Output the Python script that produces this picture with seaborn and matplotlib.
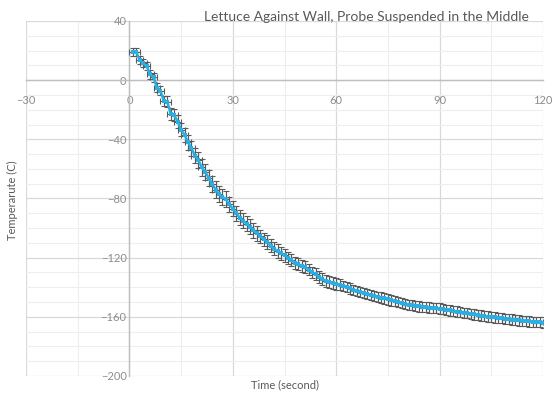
import numpy as np
import pandas as pd
import matplotlib
matplotlib.use('Agg')
import matplotlib.pyplot as plt
from matplotlib.ticker import MultipleLocator
import seaborn as sns

TITLE = 'Lettuce Against Wall, Probe Suspended in the Middle'
X_LABEL = 'Time (second)'
Y_LABEL = 'Temperarute (C)'

time_s = [
    1, 2, 3, 4, 5, 6, 7, 8, 9, 10, 11, 12, 13, 14, 15, 16, 17, 18, 19, 20,
    21, 22, 23, 24, 25, 26, 27, 28, 29, 30, 31, 32, 33, 34, 35, 36, 37, 38, 39, 40,
    41, 42, 43, 44, 45, 46, 47, 48, 49, 50, 51, 52, 53, 54, 55, 56, 57, 58, 59, 60,
    61, 62, 63, 64, 65, 66, 67, 68, 69, 70, 71, 72, 73, 74, 75, 76, 77, 78, 79, 80,
    81, 82, 83, 84, 85, 86, 87, 88, 89, 90, 91, 92, 93, 94, 95, 96, 97, 98, 99, 100,
    101, 102, 103, 104, 105, 106, 107, 108, 109, 110, 111, 112, 113, 114, 115, 116, 117, 118, 119, 120,
]
temp_c = [
    19, 19, 13.5, 11.5, 9.5, 4, 2, -5, -7, -14,
    -14.5, -23, -23.5, -28, -33.5, -37, -42, -46, -51, -54,
    -59, -62, -66, -70, -74, -77, -79, -80.5, -84, -87,
    -90, -93, -95, -97, -99, -101.5, -103.5, -105.5, -107.5, -109.5,
    -112, -114, -115.5, -117, -118.5, -120, -121.5, -123.5, -124.5, -125.5,
    -126.5, -128, -130, -131, -133, -134.5, -135.5, -136.3, -137, -137.6,
    -138.2, -139, -139.8, -140.8, -141.8, -142.6, -143.3, -144, -144.6, -145.2,
    -145.8, -146.4, -147, -147.6, -148.2, -148.9, -149.5, -150.1, -150.8, -151.4,
    -151.8, -152.2, -152.6, -152.9, -153.2, -153.5, -153.8, -154, -154.2, -154.4,
    -154.9, -155.3, -155.7, -156.1, -156.5, -156.9, -157.3, -157.6, -158, -158.4,
    -158.7, -159.1, -159.4, -159.8, -160.1, -160.4, -160.7, -161, -161.3, -161.6,
    -161.9, -162.1, -162.4, -162.6, -162.9, -163.1, -163.3, -163.5, -163.7, -163.9,
]
temp_err = [
    2.5, 2.5, 2.5, 2.5, 2.5, 3, 3, 3, 3, 3.5,
    3.5, 4, 4, 4.5, 4.5, 4.5, 5, 5, 5, 5.5,
    5.5, 5.5, 5.5, 5.5, 5.5, 5.5, 5.5, 5.5, 5, 5,
    5, 5, 5, 5, 5, 5, 5, 4.5, 4.5, 4.5,
    4.5, 4.5, 4.5, 4.5, 4.5, 4, 4, 4, 4, 4,
    4, 4, 4, 4, 4, 4, 4, 4, 4, 4,
    3.5, 3.5, 3.5, 3.5, 3.5, 3.5, 3.5, 3.5, 3.5, 3.5,
    3.5, 3.5, 3.5, 3.5, 3.5, 3.5, 3.5, 3.5, 3.5, 3.5,
    3.5, 3.5, 3.5, 3.5, 3.5, 3.5, 3.5, 3.5, 3.5, 3.5,
    3.5, 3.5, 3.5, 3.5, 3.5, 3.5, 3.5, 3.5, 3.5, 3.5,
    3.5, 3.5, 3.5, 3.5, 3.5, 3.5, 3.5, 3.5, 3.5, 3.5,
    3.5, 3.5, 3.5, 3.5, 3.5, 3.5, 3.5, 3.5, 3.5, 3.5,
]
time_err = 1.0

df = pd.DataFrame({'Time': time_s, 'Temp': temp_c, 'Err': temp_err})

sns.set_theme(style='white')
plt.rcParams['font.family'] = ['Lato', 'DejaVu Sans']

fig = plt.figure(figsize=(5.53, 3.97), dpi=100)
ax = fig.add_axes([26/553, 1-376/397, (543-26)/553, (376-21)/397])

ax.set_xlim(-30, 120)
ax.set_ylim(-200, 40)
ax.xaxis.set_major_locator(MultipleLocator(30))
ax.xaxis.set_minor_locator(MultipleLocator(15))
ax.yaxis.set_major_locator(MultipleLocator(40))
ax.yaxis.set_minor_locator(MultipleLocator(10))
ax.grid(which='major', color='#D9D9D9', linewidth=0.9)
ax.grid(which='minor', color='#EEEEEE', linewidth=0.8)
ax.set_axisbelow(True)

# axes cross at zero like the spreadsheet chart
for s in ['top', 'right']:
    ax.spines[s].set_visible(False)
ax.spines['left'].set_position(('data', 0))
ax.spines['bottom'].set_position(('data', 0))
ax.spines['left'].set_color('#BFBFBF')
ax.spines['bottom'].set_color('#BFBFBF')
ax.spines['left'].set_linewidth(1.0)
ax.spines['bottom'].set_linewidth(1.0)
ax.tick_params(which='both', length=0, labelsize=8, labelcolor='#8C8C8C')
ax.tick_params(axis='x', pad=11)
ax.tick_params(axis='y', pad=2)

ax.errorbar(df['Time'], df['Temp'], yerr=df['Err'], xerr=time_err, fmt='none',
            ecolor='#5A5A5A', elinewidth=0.8, capsize=2, capthick=0.8, zorder=3)
sns.lineplot(ax=ax, data=df, x='Time', y='Temp', color='#2AAEE3', linewidth=1.8,
             marker='s', markersize=3, markeredgewidth=0, zorder=4)

ax.set_xlabel('')
ax.set_ylabel('')
fig.text(285/553, 1-385/397, X_LABEL, ha='center', va='center', fontsize=8, color='#595959')
fig.text(12/553, 1-200/397, Y_LABEL, ha='center', va='center', rotation=90, fontsize=8, color='#595959')
fig.text(366/553, 1-17/397, TITLE, ha='center', va='center', fontsize=10, color='#595959')

fig.savefig('out.png', dpi=100)
